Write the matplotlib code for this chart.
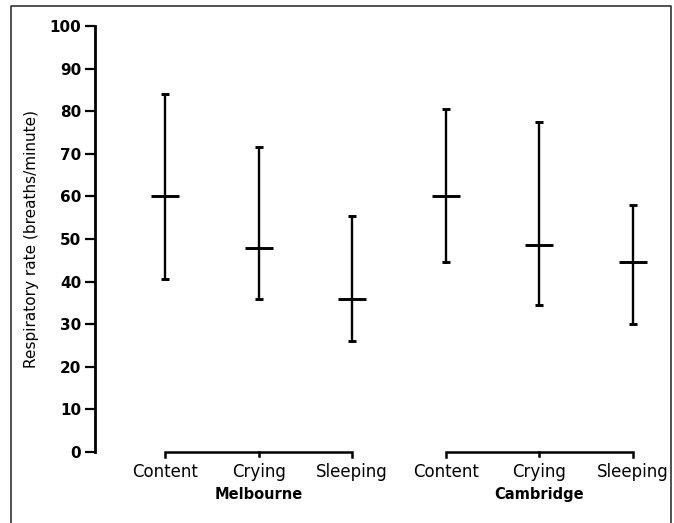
import numpy as np
import matplotlib
matplotlib.use("Agg")
from matplotlib import pyplot as plt
from matplotlib.lines import Line2D

# data
groups = ["Melbourne", "Cambridge"]
states = ["Content", "Crying", "Sleeping"]
means = [60, 48, 36, 60, 48.5, 44.5]
upper = [84, 71.5, 55.5, 80.5, 77.5, 58]
lower = [40.5, 36, 26, 44.5, 34.5, 30]

pos = np.arange(6)
means = np.array(means)
yerr = [means - np.array(lower), np.array(upper) - means]

fig = plt.figure(figsize=(6.74, 5.23), dpi=100)
W, H = 674, 523
ax = fig.add_axes([95 / W, 1 - 452 / H, (671 - 95) / W, (452 - 26) / H])

ax.errorbar(pos, means, yerr=yerr, fmt="_", color="black", ecolor="black",
            elinewidth=1.7, capsize=3, capthick=1.7,
            markersize=20, markeredgewidth=2.1)

ax.set_ylim(0, 100)
ax.set_xlim(-0.748, 5.406)
ax.set_yticks(range(0, 101, 10))
ax.set_yticklabels([str(v) for v in range(0, 101, 10)], fontweight="bold", fontsize=11)
ax.tick_params(axis="y", length=7, width=1.6, pad=3)

ax.set_xticks(pos)
ax.set_xticklabels(states * 2, fontsize=12)
ax.tick_params(axis="x", length=0, pad=8)

for s in ["top", "right", "bottom"]:
    ax.spines[s].set_visible(False)
ax.spines["left"].set_linewidth(2)

ax.set_ylabel("Respiratory rate (breaths/minute)", fontsize=11)
ax.yaxis.set_label_coords(-0.097, 0.5)

# group brackets
for g, name in enumerate(groups):
    p = pos[g * 3:(g + 1) * 3]
    ax.plot([p[0], p[0], p[-1], p[-1]], [-1.2, 0, 0, -1.2], color="black",
            lw=1.8, clip_on=False, solid_joinstyle="miter")
    ax.plot([p[1], p[1]], [0, -0.9], color="black", lw=1.8, clip_on=False)
    ax.text(p[1], -10, name, ha="center", va="center", fontsize=10.5,
            fontweight="bold")

# scan frame
fig.add_artist(Line2D([11 / W, 11 / W, 671 / W, 671 / W],
                      [0, 1 - 6 / H, 1 - 6 / H, 0], color="#333333", lw=1.2))

fig.savefig("out.png", dpi=100)
